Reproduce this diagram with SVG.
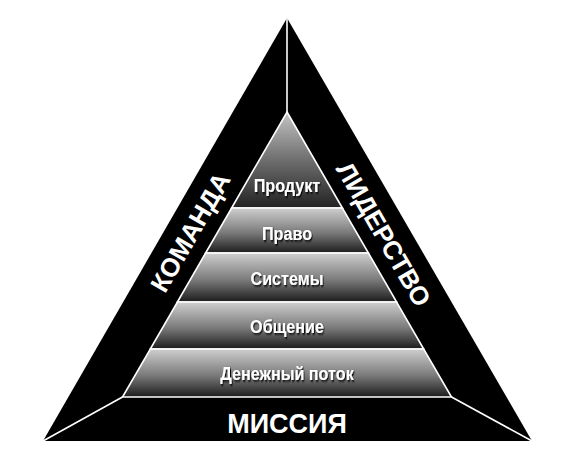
<svg xmlns="http://www.w3.org/2000/svg" width="585" height="456" viewBox="0 0 585 456">
  <defs>
    <linearGradient id="bandGrad" x1="0" y1="0" x2="0" y2="1">
      <stop offset="0" stop-color="#cfcfcf"/>
      <stop offset="0.55" stop-color="#7a7a7a"/>
      <stop offset="1" stop-color="#1c1c1c"/>
    </linearGradient>
    <linearGradient id="topGrad" x1="0" y1="0" x2="0" y2="1">
      <stop offset="0" stop-color="#c4c4c4"/>
      <stop offset="0.5" stop-color="#6e6e6e"/>
      <stop offset="1" stop-color="#222222"/>
    </linearGradient>
    <filter id="shadow" x="-20%" y="-40%" width="140%" height="180%">
      <feDropShadow dx="1.2" dy="1.5" stdDeviation="0.9" flood-color="#000" flood-opacity="0.95"/>
    </filter>
    <style>
      .band { fill: url(#bandGrad); stroke: #ffffff; stroke-width: 1.6; stroke-linejoin: miter; }
      .lbl { font-family: "Liberation Sans", Arial, sans-serif; font-weight: bold; font-size: 19px; fill: #ffffff; text-anchor: middle; filter: url(#shadow); }
      .side { font-family: "Liberation Sans", Arial, sans-serif; font-weight: bold; font-size: 26px; fill: #ffffff; text-anchor: middle; }
      .conn { stroke: #ffffff; stroke-width: 1.6; fill: none; }
    </style>
  </defs>

  <g id="frame">
    <polygon points="287,18 532,441 43,441" fill="#000000"/>
  </g>

  <g id="connectors">
    <line class="conn" x1="287" y1="18" x2="287" y2="112"/>
    <line class="conn" x1="122.5" y1="397" x2="43" y2="441"/>
    <line class="conn" x1="451.5" y1="397" x2="532" y2="441"/>
  </g>

  <g id="level-product">
    <polygon class="band" style="fill:url(#topGrad)" points="287,112 342.4,208 231.6,208"/>
    <text class="lbl" transform="translate(287,192) scale(0.85,1)">Продукт</text>
  </g>
  <g id="level-law">
    <polygon class="band" points="231.6,208 342.4,208 368.4,253 205.6,253"/>
    <text class="lbl" transform="translate(287,240) scale(0.85,1)">Право</text>
  </g>
  <g id="level-systems">
    <polygon class="band" points="205.6,253 368.4,253 396.6,302 177.4,302"/>
    <text class="lbl" transform="translate(287,285) scale(0.85,1)">Системы</text>
  </g>
  <g id="level-communication">
    <polygon class="band" points="177.4,302 396.6,302 423.7,349 150.3,349"/>
    <text class="lbl" transform="translate(287,333) scale(0.85,1)">Общение</text>
  </g>
  <g id="level-cashflow">
    <polygon class="band" points="150.3,349 423.7,349 451.5,397 122.5,397"/>
    <text class="lbl" transform="translate(287,380) scale(0.85,1)">Денежный поток</text>
  </g>

  <g id="side-team">
    <text class="side" transform="translate(190,232) rotate(-60)" y="9.5">КОМАНДА</text>
  </g>
  <g id="side-leadership">
    <text class="side" transform="translate(384,234) rotate(60)" y="9.5">ЛИДЕРСТВО</text>
  </g>
  <g id="side-mission">
    <text class="side" x="287" y="433" style="font-size:27px">МИССИЯ</text>
  </g>
</svg>
